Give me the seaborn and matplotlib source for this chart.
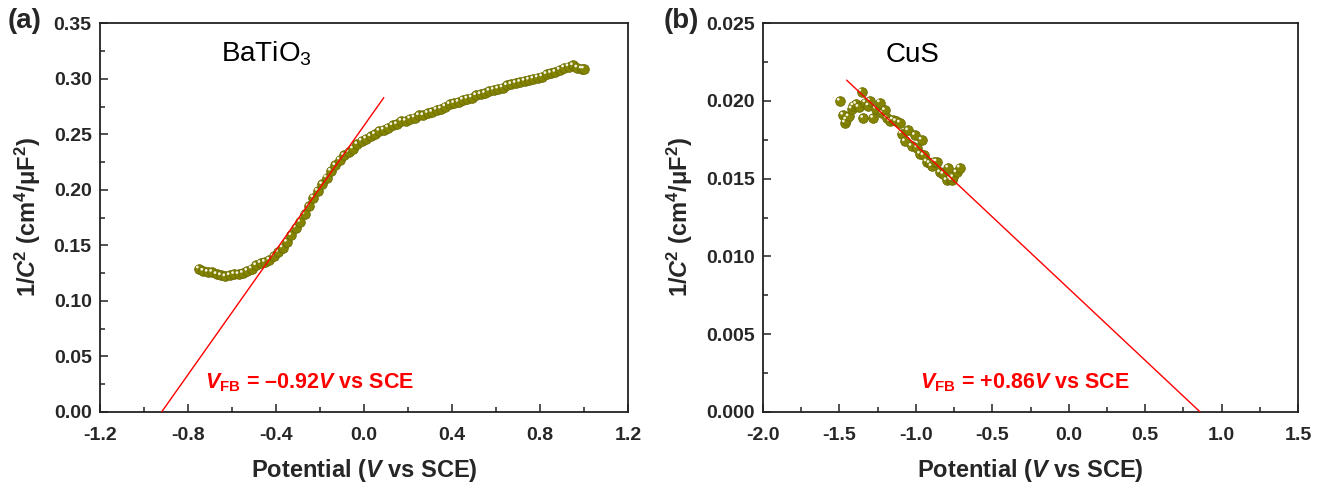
import numpy as np
import pandas as pd
import matplotlib
matplotlib.use('Agg')
import matplotlib.pyplot as plt
import matplotlib.transforms as mtransforms
from matplotlib.ticker import MultipleLocator, FormatStrFormatter
import seaborn as sns

# BaTiO3 Mott-Schottky data (potential / V vs SCE, 1/C^2)
bto_v = [-0.75, -0.73, -0.71, -0.69, -0.67, -0.65, -0.63, -0.61, -0.59, -0.57,
         -0.55, -0.53, -0.51, -0.49, -0.47, -0.45, -0.43, -0.41, -0.39, -0.37,
         -0.35, -0.33, -0.31, -0.29, -0.27, -0.25, -0.23, -0.21, -0.19, -0.17,
         -0.15, -0.13, -0.11, -0.09, -0.07, -0.05, -0.03, -0.01, 0.01, 0.03,
         0.05, 0.07, 0.09, 0.11, 0.13, 0.15, 0.17, 0.19, 0.21, 0.23,
         0.25, 0.27, 0.29, 0.31, 0.33, 0.35, 0.37, 0.39, 0.41, 0.43,
         0.45, 0.47, 0.49, 0.51, 0.53, 0.55, 0.57, 0.59, 0.61, 0.63,
         0.65, 0.67, 0.69, 0.71, 0.73, 0.75, 0.77, 0.79, 0.81, 0.83,
         0.85, 0.87, 0.89, 0.91, 0.93, 0.95, 0.97, 0.99, 1.00]
bto_c = [0.129, 0.127, 0.126, 0.126, 0.124, 0.123, 0.122, 0.123, 0.124, 0.124,
         0.125, 0.127, 0.129, 0.132, 0.134, 0.135, 0.137, 0.140, 0.144, 0.148,
         0.153, 0.159, 0.166, 0.171, 0.178, 0.185, 0.193, 0.199, 0.205, 0.211,
         0.217, 0.222, 0.227, 0.231, 0.234, 0.237, 0.241, 0.244, 0.246, 0.248,
         0.250, 0.253, 0.254, 0.256, 0.258, 0.259, 0.262, 0.262, 0.264, 0.265,
         0.267, 0.267, 0.269, 0.270, 0.272, 0.273, 0.275, 0.277, 0.278, 0.279,
         0.281, 0.282, 0.283, 0.285, 0.286, 0.287, 0.289, 0.290, 0.291, 0.292,
         0.294, 0.295, 0.296, 0.297, 0.298, 0.299, 0.300, 0.301, 0.302, 0.304,
         0.305, 0.306, 0.308, 0.310, 0.311, 0.312, 0.310, 0.309, 0.309]
bto_fit_v = [-0.92, 0.09]
bto_fit_c = [0.0, 0.283]

# CuS data
cus_v = [-1.497, -1.475, -1.464, -1.455, -1.44, -1.42, -1.409, -1.39, -1.375, -1.355,
         -1.344, -1.33, -1.31, -1.30, -1.279, -1.26, -1.235, -1.22, -1.202, -1.19,
         -1.169, -1.15, -1.13, -1.104, -1.093, -1.071, -1.05, -1.028, -1.006, -0.99,
         -0.973, -0.962, -0.95, -0.929, -0.91, -0.897, -0.88, -0.864, -0.842, -0.82,
         -0.799, -0.788, -0.775, -0.766, -0.755, -0.734, -0.712]
cus_c = [0.0200, 0.0191, 0.0186, 0.0188, 0.0190, 0.0195, 0.0197, 0.0198, 0.0196, 0.0206,
         0.0189, 0.0199, 0.0197, 0.0200, 0.0189, 0.0195, 0.0199, 0.0192, 0.0194, 0.0189,
         0.0187, 0.0188, 0.0187, 0.0186, 0.0179, 0.0174, 0.0181, 0.0171, 0.0178, 0.0170,
         0.0166, 0.0175, 0.0165, 0.0161, 0.0160, 0.0158, 0.0161, 0.0161, 0.0154, 0.0153,
         0.0149, 0.0157, 0.0150, 0.0149, 0.0151, 0.0154, 0.0157]
cus_fit_v = [-1.453, 0.86]
cus_fit_c = [0.02134, 0.0]

sns.set_style('ticks')
plt.rcParams['font.family'] = ['Liberation Sans', 'DejaVu Sans']
plt.rcParams['mathtext.fontset'] = 'custom'
plt.rcParams['mathtext.rm'] = 'Liberation Sans'
plt.rcParams['mathtext.it'] = 'Liberation Sans:italic'
plt.rcParams['mathtext.bf'] = 'Liberation Sans:bold'
plt.rcParams['mathtext.bfit'] = 'Liberation Sans:italic:bold'

fig = plt.figure(figsize=(13.21, 4.83), dpi=100)
ax1 = fig.add_axes([0.0757, 0.147, 0.3997, 0.805])
ax2 = fig.add_axes([0.5776, 0.147, 0.405, 0.805])

olive = '#848400'


def draw_points(ax, x, y):
    df = pd.DataFrame({'v': x, 'c': y})
    sns.scatterplot(data=df, x='v', y='c', ax=ax, s=48, color=olive,
                    edgecolor='#6a6a00', linewidth=0.6, zorder=3)
    # small white highlight to mimic the sphere markers
    sns.scatterplot(data=df, x='v', y='c', ax=ax, s=4, color='#f4f4e0',
                    edgecolor='none', zorder=4)
    coll = ax.collections[-1]
    coll.set_offset_transform(ax.transData + mtransforms.ScaledTranslation(
        -1.2 / 72, 1.2 / 72, fig.dpi_scale_trans))


def style_axes(ax, xmaj, xmin, ymaj, ymin, yfmt):
    ax.xaxis.set_major_locator(MultipleLocator(xmaj))
    ax.xaxis.set_minor_locator(MultipleLocator(xmin))
    ax.yaxis.set_major_locator(MultipleLocator(ymaj))
    ax.yaxis.set_minor_locator(MultipleLocator(ymin))
    ax.xaxis.set_major_formatter(FormatStrFormatter('%.1f'))
    ax.yaxis.set_major_formatter(FormatStrFormatter(yfmt))
    ax.tick_params(which='both', direction='in', top=False, right=False,
                   color='#222222')
    ax.tick_params(which='major', length=6, width=1.1, labelsize=14)
    ax.tick_params(axis='x', which='major', pad=11)
    ax.tick_params(axis='y', which='major', pad=6)
    ax.tick_params(which='minor', length=3.5, width=1.1)
    for lab in ax.get_xticklabels() + ax.get_yticklabels():
        lab.set_fontweight('bold')
    for sp in ax.spines.values():
        sp.set_visible(True)
        sp.set_linewidth(1.3)
        sp.set_color('#222222')
    ax.set_xlabel(r'Potential ($\mathbfit{V}$ vs SCE)', fontsize=17,
                  fontweight='bold', labelpad=9)
    ax.set_ylabel(r'1/$\mathbfit{C}^{\mathbf{2}}$ (cm$^{\mathbf{4}}$/μF$^{\mathbf{2}}$)',
                  fontsize=17, fontweight='bold', labelpad=8)


# (a) BaTiO3
draw_points(ax1, bto_v, bto_c)
sns.lineplot(x=bto_fit_v, y=bto_fit_c, ax=ax1, color='red', linewidth=1, zorder=5)
ax1.set_xlim(-1.2, 1.2)
ax1.set_ylim(0, 0.35)
style_axes(ax1, 0.4, 0.2, 0.05, 0.025, '%.2f')
ax1.text(-0.65, 0.3152, r'BaTiO$_3$', fontsize=20, va='baseline', color='black')
ax1.text(-0.723, 0.0213, r'$\mathbfit{V}_{\mathbf{FB}}$ = –0.92$\mathbfit{V}$ vs SCE',
         color='red', fontsize=15.5, fontweight='bold', va='baseline')

# (b) CuS
draw_points(ax2, cus_v, cus_c)
sns.lineplot(x=cus_fit_v, y=cus_fit_c, ax=ax2, color='red', linewidth=1, zorder=5)
ax2.set_xlim(-2.0, 1.5)
ax2.set_ylim(0, 0.025)
style_axes(ax2, 0.5, 0.25, 0.005, 0.0025, '%.3f')
ax2.text(-1.2, 0.02249, 'CuS', fontsize=20, va='baseline', color='black')
ax2.text(-0.973, 0.00152, r'$\mathbfit{V}_{\mathbf{FB}}$ = +0.86$\mathbfit{V}$ vs SCE',
         color='red', fontsize=15.5, fontweight='bold', va='baseline')

fig.text(0.006, 0.957, '(a)', fontsize=20, fontweight='bold', va='center')
fig.text(0.502, 0.957, '(b)', fontsize=20, fontweight='bold', va='center')

fig.savefig('out.png', dpi=100)
